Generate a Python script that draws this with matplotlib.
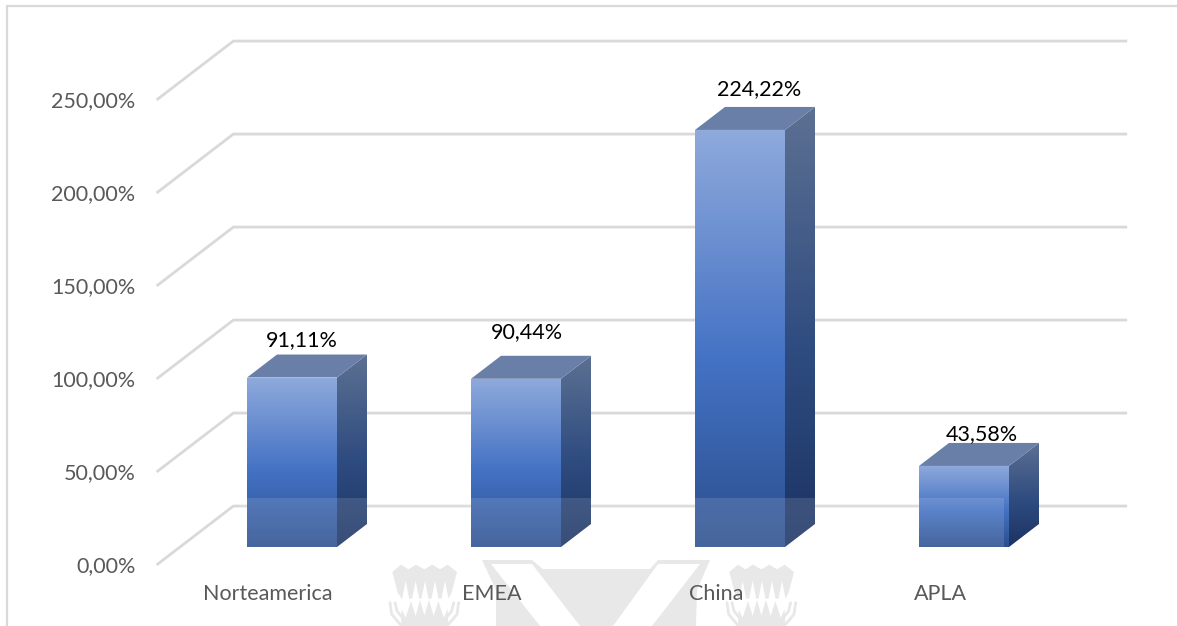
import numpy as np
import matplotlib
matplotlib.use("Agg")
import matplotlib.pyplot as plt
from matplotlib.colors import LinearSegmentedColormap
from matplotlib.patches import Polygon, Rectangle

plt.rcParams["font.family"] = ["Lato", "DejaVu Sans"]

regions = ["Norteamerica", "EMEA", "China", "APLA"]
growth = [91.11, 90.44, 224.22, 43.58]
growth_labels = ["91,11%", "90,44%", "224,22%", "43,58%"]
tick_values = [0, 50, 100, 150, 200, 250]
tick_labels = ["0,00%", "50,00%", "100,00%", "150,00%", "200,00%", "250,00%"]

W, H = 1177, 626
fig = plt.figure(figsize=(W / 100, H / 100), dpi=100, facecolor="white")

# Pixel-space layer for the frame and the faint background emblem
deco = fig.add_axes([0, 0, 1, 1], zorder=0)
deco.set_xlim(0, W)
deco.set_ylim(H, 0)
deco.axis("off")
PX = deco.transData

# Oblique chart layer: x is the category index, y the percentage
ax = fig.add_axes([0, 0, 1, 1], zorder=1)
ax.patch.set_alpha(0)
ax.axis("off")
UX, UY = 224.0, 1.86
xlim = (-292 / UX, (W - 292) / UX)
ylim = ((547 - H) / UY, 547 / UY)
ax.set_xlim(xlim)
ax.set_ylim(ylim)
DX, DY = 30 / UX, 23 / UY   # one bar depth along the oblique axis
HALF = 45 / UX


def proj(x, v, depth=0.0):
    return x + depth * DX, v + depth * DY


# Frame
deco.plot([6.5, 6.5, W], [H, 5.5, 5.5], color="#d9d9d9", lw=1.6, solid_joinstyle="miter")

EMBLEM = "#e8e8e8"


def add_lotus(x0):
    def place(pts):
        return [(x0 + a / 3, 556 + b / 3) for a, b in pts]

    fan = [(22, 48), (48, 26), (70, 40), (93, 26), (118, 40), (142, 26), (165, 40), (188, 26),
           (216, 48), (200, 110), (190, 128), (50, 128), (38, 110)]
    deco.add_patch(Polygon(place(fan), fc=EMBLEM, ec="none"))
    for tip in (62, 92, 120, 150, 180):
        deco.add_patch(Polygon(place([(tip, 75), (tip + 11, 130), (tip - 11, 130)]),
                               fc="white", ec="none"))
    spikes = [(48, 210), (50, 160), (62, 185), (78, 135), (92, 180), (105, 132), (118, 178),
              (132, 132), (146, 180), (160, 135), (176, 185), (188, 160), (190, 210)]
    deco.add_patch(Polygon(place(spikes), fc=EMBLEM, ec="none"))
    for curve in ([(15, 140), (20, 175), (48, 208)], [(30, 140), (36, 165), (52, 185)]):
        for pts in (curve, [(236 - a, b) for a, b in curve]):
            xs, ys = zip(*place(pts))
            deco.plot(xs, ys, color=EMBLEM, lw=2.0, solid_capstyle="round")


add_lotus(385)
add_lotus(722)

deco.add_patch(Polygon([(482, 560), (532, 560), (543, 569), (650, 569), (658, 560), (710, 560),
                        (697, 590), (696, H), (496, H), (496, 590)], fc=EMBLEM, ec="none"))
deco.add_patch(Polygon([(491, 564), (532, 564), (580, H), (540, H)], fc="white", ec="none"))
deco.add_patch(Polygon([(658, 564), (700, 564), (652, H), (613, H)], fc="white", ec="none"))

# Back wall and floor gridlines with their receding left segment
for v, tick in zip(tick_values, tick_labels):
    xs, ys = zip(proj(-0.5, v, -0.78), proj(-0.5, v, 1.78), proj(3.49, v, 1.78))
    ax.plot(xs, ys, color="#d9d9d9", lw=2.0, zorder=1, solid_capstyle="butt")
    fx, fy = proj(-0.5, v, -0.78)
    ax.annotate(tick, (fx, fy), xytext=(-21, -1), textcoords="offset pixels",
                ha="right", va="center", fontsize=15.5, color="#595959")

front_map = LinearSegmentedColormap.from_list(
    "front", [(0, "#8faadc"), (0.55, "#4472c4"), (1, "#2b4f8e")])
side_map = LinearSegmentedColormap.from_list(
    "side", [(0, "#5c7092"), (0.55, "#2f4c80"), (1, "#1b3363")])
ramp = np.linspace(0, 1, 256).reshape(-1, 1)


def shaded_face(points, cmap, extent, z):
    clip = Polygon(points, closed=True, transform=ax.transData, fc="none", ec="none")
    ax.add_patch(clip)
    im = ax.imshow(ramp, cmap=cmap, extent=extent, origin="upper", aspect="auto",
                   zorder=z, interpolation="bilinear")
    im.set_clip_path(clip)


label_offsets = [(10, 37), (11, 47), (19, 41), (18, 32)]

for i, v in enumerate(growth):
    x0, x1 = i - HALF, i + HALF
    # Front face
    shaded_face([(x0, 0), (x1, 0), (x1, v), (x0, v)], front_map, (x0, x1, 0, v), 3)
    # Side face
    side = [proj(x1, 0), proj(x1, 0, 1), proj(x1, v, 1), proj(x1, v)]
    shaded_face(side, side_map, (x1, x1 + DX, 0, v + DY), 3)
    # Top face
    ax.add_patch(Polygon([proj(x0, v), proj(x1, v), proj(x1, v, 1), proj(x0, v, 1)],
                         fc="#6a7fa8", ec="none", zorder=3))
    ax.annotate(growth_labels[i], (i, v), xytext=label_offsets[i], textcoords="offset pixels",
                ha="center", va="center", fontsize=15.5, color="black", zorder=6)
    ax.annotate(regions[i], (i, 0), xytext=(-24, -47), textcoords="offset pixels",
                ha="center", va="center", fontsize=15.5, color="#595959", zorder=6)

ax.set_xlim(xlim)
ax.set_ylim(ylim)

# Pale translucent strip across the lower part of the columns
ax.add_patch(Rectangle((240, 498), 764, 52, transform=PX, fc="white", ec="none", alpha=0.13, zorder=5))

fig.savefig("out.png", dpi=100)
